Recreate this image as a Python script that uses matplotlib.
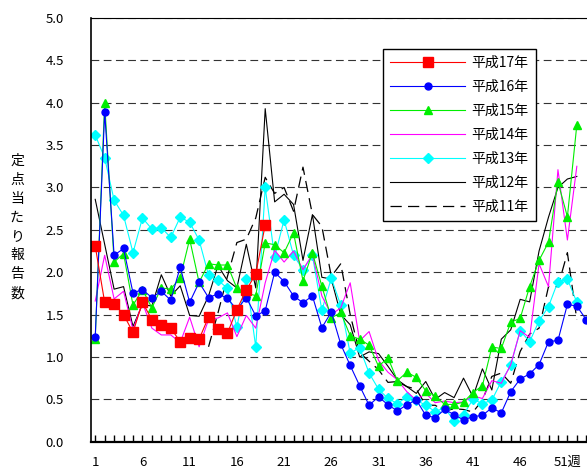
"""Weekly reports per sentinel site, Heisei 11-17 (recreated)."""
import matplotlib
matplotlib.use("Agg")
import matplotlib.pyplot as plt
from matplotlib.ticker import MultipleLocator

plt.rcParams["font.family"] = ["Noto Sans CJK JP", "DejaVu Sans"]

# --- data ---
h17 = [2.31, 1.645, 1.63, 1.50, 1.29, 1.645, 1.44, 1.38, 1.34, 1.18,
       1.22, 1.21, 1.47, 1.33, 1.28, 1.56, 1.79, 1.98, 2.56]
h16 = [1.235, 3.89, 2.20, 2.28, 1.756, 1.795, 1.70, 1.775, 1.67, 2.06,
       1.645, 1.88, 1.70, 1.745, 1.69, 1.56, 1.70, 1.485, 1.545, 2.00,
       1.89, 1.72, 1.64, 1.72, 1.345, 1.53, 1.15, 0.90, 0.66, 0.43,
       0.53, 0.435, 0.364, 0.435, 0.494, 0.31, 0.284, 0.38, 0.32, 0.257,
       0.296, 0.31, 0.40, 0.34, 0.59, 0.74, 0.80, 0.91, 1.18, 1.195,
       1.62, 1.60, 1.44]
h15 = [1.21, 4.00, 2.12, 2.22, 1.61, 1.795, 1.58, 1.815, 1.80, 1.935,
       2.39, 1.88, 2.10, 2.085, 2.085, 1.81, 1.75, 1.725, 2.345, 2.325,
       2.23, 2.465, 1.90, 2.23, 1.835, 1.46, 1.525, 1.25, 1.21, 1.14,
       0.89, 0.99, 0.72, 0.82, 0.76, 0.60, 0.54, 0.44, 0.44, 0.466,
       0.58, 0.66, 1.117, 1.10, 1.41, 1.455, 1.83, 2.14, 2.355, 3.065,
       2.655, 3.74]
h14 = [1.66, 2.20, 1.685, 1.775, 1.32, 1.64, 1.34, 1.26, 1.26, 1.17,
       1.47, 1.12, 1.44, 1.46, 1.52, 1.24, 1.49, 1.34, 1.875, 2.26,
       2.12, 2.25, 2.03, 2.21, 1.72, 1.50, 1.58, 1.875, 1.19, 1.30,
       0.96, 0.82, 0.73, 0.59, 0.49, 0.57, 0.46, 0.48, 0.46, 0.47,
       0.54, 0.51, 0.72, 0.69, 0.91, 1.31, 1.23, 2.10, 1.83, 3.21,
       2.38, 3.25]
h13 = [3.62, 3.35, 2.85, 2.67, 2.23, 2.64, 2.51, 2.525, 2.41, 2.65,
       2.59, 2.38, 1.965, 1.905, 1.81, 1.35, 1.925, 1.117, 3.00, 2.18,
       2.62, 2.20, 2.03, 2.20, 1.55, 1.93, 1.61, 1.045, 1.11, 0.81,
       0.62, 0.51, 0.45, 0.53, 0.49, 0.43, 0.355, 0.40, 0.245, 0.32,
       0.50, 0.45, 0.49, 0.71, 0.90, 1.31, 1.18, 1.425, 1.595, 1.89,
       1.92, 1.645]
h12 = [2.86, 2.33, 1.80, 1.83, 1.36, 1.62, 1.60, 1.97, 1.72, 1.84,
       1.49, 1.48, 1.72, 2.08, 1.90, 1.815, 2.33, 1.815, 3.93, 2.83,
       2.92, 2.80, 2.14, 2.68, 1.94, 1.92, 1.50, 1.38, 1.00, 1.06,
       1.04, 0.89, 0.73, 0.65, 0.57, 0.71, 0.50, 0.58, 0.52, 0.75,
       0.53, 0.86, 0.61, 1.21, 1.32, 1.68, 1.65, 2.25, 2.65, 3.00,
       3.10, 3.13]
h11_start = 13
h11 = [1.12, 1.52, 1.95, 2.35, 2.39, 2.64, 3.12, 2.93, 3.00, 2.72,
       3.24, 2.68, 2.54, 1.95, 2.10, 1.50, 1.05, 0.95, 0.85, 0.70,
       0.71, 0.65, 0.62, 0.43, 0.43, 0.36, 0.39, 0.38, 0.35, 0.49,
       0.77, 0.81, 0.69, 1.065, 1.27, 1.34, 1.83, 1.83, 2.23, 1.44]

tick_weeks = [1, 6, 11, 16, 21, 26, 31, 36, 41, 46, 51]
tick_labels = ["1", "6", "11", "16", "21", "26", "31", "36", "41", "46", "51週"]


def weeks(vals, start=1):
    return list(range(start, start + len(vals)))


fig = plt.figure(figsize=(5.87, 4.71), dpi=100)
ax = fig.add_axes([90.5 / 587, 1 - 441.7 / 471, (591 - 90.5) / 587, (441.7 - 18) / 471])

lw = 0.8
ax.plot(weeks(h11, h11_start), h11, color="black", lw=0.9, dashes=(9, 5),
        label="平成11年")
ax.plot(weeks(h12), h12, color="black", lw=lw, label="平成12年")
ax.plot(weeks(h13), h13, color="#00FFFF", lw=lw, marker="D", ms=4.8,
        label="平成13年")
ax.plot(weeks(h14), h14, color="#FF00FF", lw=lw, label="平成14年")
ax.plot(weeks(h15), h15, color="#00EE00", lw=lw, marker="^", ms=6,
        label="平成15年")
ax.plot(weeks(h16), h16, color="#0000FF", lw=lw, marker="o", ms=5,
        label="平成16年")
ax.plot(weeks(h17), h17, color="#FF0000", lw=lw, marker="s", ms=7,
        label="平成17年")

ax.set_xlim(0.5, 53.5)
ax.set_ylim(0, 5.0)
ax.yaxis.set_major_locator(MultipleLocator(0.5))
ax.yaxis.set_major_formatter(matplotlib.ticker.FormatStrFormatter("%.1f"))
ax.set_xticks(tick_weeks)
ax.set_xticklabels(tick_labels)
ax.xaxis.set_minor_locator(MultipleLocator(1))
ax.tick_params(axis="x", which="both", direction="in", length=5, width=1,
               labelsize=9.5, pad=10)
ax.tick_params(axis="y", which="both", length=0, labelsize=9.5, pad=19)

ax.grid(axis="y", color="#333333", lw=0.8, dashes=(7, 4))
ax.set_axisbelow(True)
ax.spines["right"].set_visible(False)
ax.spines["top"].set_linewidth(0.8)
ax.spines["left"].set_linewidth(1.2)
ax.spines["bottom"].set_linewidth(1.6)

fig.text(17 / 587, 1 - 227 / 471, "\n".join("定点当たり報告数"),
         ha="center", va="center", fontsize=10, linespacing=1.45)

handles, labels = ax.get_legend_handles_labels()
leg = ax.legend(handles[::-1], labels[::-1], loc="upper left",
                bbox_to_anchor=(383.3 / 587, 1 - 49.3 / 471),
                bbox_transform=fig.transFigure, fontsize=10,
                handlelength=5.4, handletextpad=0.45, labelspacing=0.72,
                borderpad=0.5, borderaxespad=0, fancybox=False,
                framealpha=1, edgecolor="black", numpoints=1)
leg.get_frame().set_linewidth(1.0)

fig.savefig("out.png", dpi=100)
